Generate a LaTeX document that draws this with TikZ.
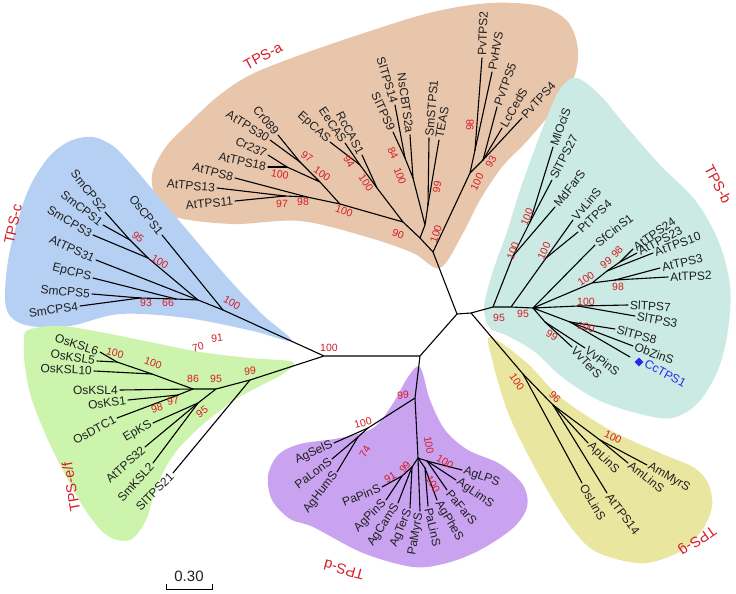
\documentclass[tikz,border=0pt]{standalone}
\usepackage{fontspec}
\setmainfont{Liberation Sans}
\usetikzlibrary{shapes.geometric}
\definecolor{tpsa}{RGB}{232,198,172}
\definecolor{tpsb}{RGB}{202,234,227}
\definecolor{tpsc}{RGB}{182,208,244}
\definecolor{tpsef}{RGB}{204,244,172}
\definecolor{tpsd}{RGB}{201,163,240}
\definecolor{tpsg}{RGB}{233,230,160}
\definecolor{bsred}{RGB}{214,28,36}
\definecolor{ccblue}{RGB}{40,40,235}

\begin{document}
\begin{tikzpicture}[x=1pt,y=-1pt,
    branch/.style={line width=1.1pt,line cap=round,line join=round},
    leaf/.style={font=\fontsize{12}{14}\selectfont,text=black!88,inner sep=2pt},
    bs/.style={font=\fontsize{10.5}{12}\selectfont,text=bsred,inner sep=0pt},
    clade/.style={font=\fontsize{14.5}{17}\selectfont,text=bsred,inner sep=0pt}]
    \useasboundingbox (0,0) rectangle (736,594);

    % clade backgrounds
    \fill[tpsa] plot[smooth cycle,tension=0.55] coordinates {(152,175) (165,148) (187,125) (217,97) (250,75) (300,55) (367,32) (433,12) (490,3) (540,6) (568,22) (578,50) (573,80) (553,110) (528,140) (502,167) (480,200) (462,235) (440,268) (413,253) (367,237) (300,221) (233,224) (175,217) (157,200)};
    \fill[tpsb] plot[smooth cycle,tension=0.55] coordinates {(577,78) (600,95) (625,125) (660,165) (695,200) (718,240) (730,285) (728,330) (718,370) (698,403) (672,418) (640,414) (598,400) (562,377) (535,352) (508,336) (490,328) (484,310) (488,288) (496,262) (507,232) (520,190) (537,143) (552,105) (563,85)};
    \fill[tpsc] plot[smooth cycle,tension=0.55] coordinates {(93,137) (113,146) (130,163) (153,190) (187,230) (227,277) (262,314) (292,341) (253,331) (187,318) (120,314) (70,326) (30,326) (10,316) (5,295) (10,250) (27,193) (48,158) (70,141)};
    \fill[tpsef] plot[smooth cycle,tension=0.55] coordinates {(28,330) (60,326) (100,332) (150,342) (200,352) (250,358) (293,362) (283,374) (262,385) (233,401) (200,427) (175,453) (157,485) (146,520) (130,540) (108,536) (88,514) (68,480) (48,440) (32,400) (25,367) (24,342)};
    \fill[tpsd] plot[smooth cycle,tension=0.55] coordinates {(420,367) (430,400) (445,430) (468,450) (500,464) (523,485) (527,507) (513,528) (480,550) (447,563) (413,567) (363,553) (313,527) (290,519) (272,500) (268,476) (278,455) (300,444) (340,438) (373,428) (392,405) (408,377)};
    \fill[tpsg] plot[smooth cycle,tension=0.55] coordinates {(490,337) (527,363) (560,397) (610,430) (660,453) (693,467) (708,483) (712,507) (700,533) (677,553) (647,563) (620,560) (593,550) (573,530) (553,500) (527,453) (507,410) (493,363)};

    % inner nodes
    \coordinate (A) at (324,356);
    \coordinate (B) at (420,356);
    \coordinate (C) at (457,314);
    \coordinate (D) at (471,313);
    % TPS-a
    \coordinate (a0) at (433,252);
    \coordinate (p0) at (470,173);
    \coordinate (p1) at (475,150);
    \coordinate (p2) at (483,160);
    \coordinate (a1) at (420,238);
    \coordinate (t0) at (425,225);
    \coordinate (tS) at (428,205);
    \coordinate (s2) at (413,178);
    \coordinate (s1) at (405,158);
    \coordinate (L1) at (403,222);
    \coordinate (R2) at (377,188);
    \coordinate (R1) at (360,165);
    \coordinate (L2) at (340,204);
    \coordinate (m3) at (320,182);
    \coordinate (m2) at (300,162);
    \coordinate (m1) at (287,167);
    \coordinate (n2) at (307,197);
    \coordinate (n1) at (285,196);
    % TPS-b
    \coordinate (b0) at (493,307);
    \coordinate (bA) at (513,256);
    \coordinate (bA1) at (530,222);
    \coordinate (b1) at (511,307);
    \coordinate (b2) at (546,258);
    \coordinate (b3) at (533,308);
    \coordinate (bT1) at (592,283);
    \coordinate (bT2) at (607,271);
    \coordinate (bT4) at (620,262);
    \coordinate (bT3) at (615,280);
    \coordinate (bS1) at (578,306);
    \coordinate (bO) at (570,322);
    \coordinate (bV) at (545,322);
    % TPS-g
    \coordinate (g0) at (523,374);
    \coordinate (g1) at (553,405);
    \coordinate (g2) at (600,440);
    % TPS-d
    \coordinate (d0) at (415,398);
    \coordinate (dA) at (368,428);
    \coordinate (dA2) at (358,437);
    \coordinate (dB) at (418,458);
    \coordinate (dL1) at (412,467);
    \coordinate (dL2) at (402,476);
    \coordinate (dR1) at (427,461);
    \coordinate (dR2) at (425,468);
    % TPS-c
    \coordinate (c0) at (223,310);
    \coordinate (c1) at (198,300);
    \coordinate (cA) at (148,258);
    \coordinate (cA1) at (130,240);
    \coordinate (c2) at (176,299);
    \coordinate (c3) at (140,298);
    % TPS-e/f
    \coordinate (e0) at (250,380);
    \coordinate (e1) at (216,389);
    \coordinate (e3) at (193,389);
    \coordinate (e4) at (152,374);
    \coordinate (e7) at (117,362);
    \coordinate (e5) at (178,395);
    \coordinate (e2) at (198,403);

    \draw[branch]
    (A) -- (B) (B) -- (C) (C) -- (D)
    (C) -- (a0) (a0) -- (p0) (p0) -- (p1) (p0) -- (p2)
    (a0) -- (a1) (a1) -- (t0) (t0) -- (tS) (t0) -- (s2) (s2) -- (s1)
    (a1) -- (L1) (L1) -- (R2) (R2) -- (R1) (L1) -- (L2)
    (L2) -- (m3) (m3) -- (m2) (m3) -- (m1) (L2) -- (n2) (n2) -- (n1)
    (D) -- (b0) (b0) -- (bA) (bA) -- (bA1) (b0) -- (b1) (b1) -- (b2)
    (b1) -- (b3) (b3) -- (bT1) (bT1) -- (bT2) (bT2) -- (bT4) (bT1) -- (bT3)
    (b3) -- (bS1) (b3) -- (bO) (b3) -- (bV)
    (D) -- (g0) (g0) -- (g1) (g1) -- (g2)
    (B) -- (d0) (d0) -- (dA) (dA) -- (dA2) (d0) -- (dB)
    (dB) -- (dL1) (dL1) -- (dL2) (dB) -- (dR1) (dB) -- (dR2)
    (A) -- (c0) (c0) -- (c1) (c1) -- (cA) (cA) -- (cA1) (c1) -- (c2) (c2) -- (c3)
    (A) -- (e0) (e0) -- (e1) (e1) -- (e3) (e3) -- (e4) (e4) -- (e7)
    (e3) -- (e5) (e1) -- (e2);

    % leaves: name/parent/x/y/angle/anchor
    \foreach \lf/\pa/\x/\y/\r/\an in {
        Cr089/m2/278/135/-50/east, AtTPS30/m2/270/140/-32/east,
        Cr237/m1/268/155/-25/east, AtTPS18/m1/268/167/-12/east,
        AtTPS8/n2/235/178/-15/east, AtTPS13/n1/217/188/-5/east,
        AtTPS11/n1/235/201/5/east, EpCAS/R1/330/142/-42/east,
        EeCAS/R1/345/143/-56/east, RcCAS1/R2/362/155/-62/east,
        SlTPS9/s1/393/132/-65/east, SlTPS14/s1/395/105/-73/east,
        NsCBTS2a/s2/410/135/-82/east, SmSTPS1/tS/429/138/85/west,
        TEAS/tS/439/140/80/west, PvTPS2/p1/482/58/88/west,
        PvHVS/p1/492/72/80/west, PvTPS5/p2/497/107/70/west,
        LcCedS/p2/502/128/60/west, PvTPS4/p2/522/118/47/west,
        MlOciS/bA1/553/147/70/west, SlTPS27/bA1/552/180/63/west,
        MdFarS/bA/555/207/52/west, VvLinS/b2/573/220/50/west,
        PtTPS4/b2/578/232/43/west, SfCinS1/b3/595/245/38/west,
        AtTPS24/bT4/633/249/35/west, AtTPS23/bT4/637/253/28/west,
        AtTPS10/bT2/653/253/20/west, AtTPS3/bT3/660/268/13/west,
        AtTPS2/bT3/668/277/2/west, SlTPS7/bS1/628/305/-3/west,
        SlTPS3/bS1/635/316/-10/west, SlTPS8/bO/615/329/-15/west,
        ObZinS/bO/633/346/-20/west, VvPinS/bV/585/348/-37/west,
        VvTerS/bV/572/347/-47/west,
        OsLinS/g0/582/483/-60/west, AtTPS14/g1/607/493/-53/west,
        ApLinS/g1/588/443/-45/west, AmLinS/g2/628/463/-38/west,
        AmMyrS/g2/647/465/-30/west,
        AgSelS/dA/334/443/25/east, PaLonS/dA2/332/459/37/east,
        AgHumS/dA2/337/472/52/east, PaPinS/dL2/382/487/22/east,
        AgPinS/dL2/386/500/45/east, AgCamS/dL1/398/503/57/east,
        AgTerS/dL1/410/508/67/east, PaMyrS/dB/420/511/80/east,
        PaLinS/dR2/428/506/-77/west, AgPheS/dR2/437/500/-60/west,
        PaFarS/dR1/447/490/-50/west, AgLimS/dR1/456/480/-35/west,
        AgLPS/dR1/462/470/-20/west,
        OsCPS1/c0/162/235/-52/east, SmCPS2/cA1/105/212/-52/east,
        SmCPS1/cA1/103/225/-38/east, SmCPS3/cA/93/235/-30/east,
        AtTPS31/c1/96/260/-25/east, EpCPS/c2/93/278/-14/east,
        SmCPS5/c3/92/294/-5/east, SmCPS4/c3/80/306/8/east,
        OsKSL6/e7/100/352/-18/east, OsKSL5/e7/97/361/-9/east,
        OsKSL10/e4/94/371/-3/east, OsKSL4/e3/120/390/0/east,
        OsKS1/e5/128/400/8/east, OsDTC1/e5/117/418/28/east,
        EpKS/e2/153/423/30/east, AtTPS32/e2/145/447/42/east,
        SmKSL2/e2/153/463/48/east, SlTPS21/e0/173/473/45/east}
    {
        \coordinate (\lf) at (\x,\y);
        \draw[branch] (\pa) -- (\lf);
        \node[leaf,rotate=\r,anchor=\an] (l\lf) at (\lf) {\lf};
    }

    % the new gene
    \coordinate (CcTPS1) at (630,357);
    \draw[branch] (bO) -- (CcTPS1);
    \node[diamond,fill=ccblue,inner sep=0pt,minimum size=9pt] (ccmark) at (639,362) {};
    \node[leaf,text=ccblue,rotate=-28,anchor=west] (lCcTPS1) at (ccmark.east) {CcTPS1};

    % bootstrap values
    \foreach \v/\x/\y/\r [count=\i] in {
        97/282/204/0, 98/303/202/0, 100/280/174/-10, 97/307/157/-35,
        100/322/174/-35, 94/349/162/-58, 100/366/183/-55, 100/344/211/-20,
        90/398/234/-20, 84/393/153/-65, 100/400/176/-70, 99/437/187/80,
        100/436/234/72, 98/470/125/88, 100/477/182/65, 93/491/162/60,
        100/527/217/68, 100/513/251/70, 100/544/251/65, 100/586/279/35,
        99/606/263/35, 98/617/252/50, 98/618/287/0, 100/586/302/0,
        95/499/318/0, 95/523/314/0, 99/552/335/-30, 100/586/327/-15,
        100/517/382/-55, 96/555/397/-45, 100/613/437/-25,
        99/403/395/5, 100/363/423/15, 74/365/452/60, 100/429/445/-80,
        91/390/477/30, 99/405/467/55, 100/445/462/-30, 100/433/484/-60,
        100/329/348/0,
        95/138/237/-40, 100/160/262/-30, 93/146/303/0, 66/168/303/0,
        100/232/303/-30,
        100/115/353/-15, 100/153/363/-20, 86/193/379/0, 95/216/379/0,
        99/250/371/5, 98/157/408/15, 97/173/401/10, 95/202/412/35,
        70/198/347/15, 91/217/338/5}
    \node[bs,rotate=\r] (bs\i) at (\x,\y) {\v};

    % clade names
    \node[clade,rotate=28] (tpsA) at (263,56) {TPS-a};
    \node[clade,rotate=-62] (tpsB) at (718,184) {TPS-b};
    \node[clade,rotate=78] (tpsC) at (13,224) {TPS-c};
    \node[clade,rotate=100] (tpsEF) at (71,487) {TPS-e/f};
    \node[clade,rotate=165] (tpsD) at (344,570) {TPS-d};
    \node[clade,rotate=215] (tpsG) at (697,540) {TPS-g};

    % scale bar
    \coordinate (sb1) at (166,589);
    \coordinate (sb2) at (212,589);
    \draw[line width=1pt] ([yshift=5pt]sb1) -- (sb1) -- (sb2) -- ([yshift=5pt]sb2);
    \node[font=\fontsize{15}{17}\selectfont,text=black!88,inner sep=0pt,anchor=south] (sbtext) at (189,582) {0.30};
\end{tikzpicture}
\end{document}
